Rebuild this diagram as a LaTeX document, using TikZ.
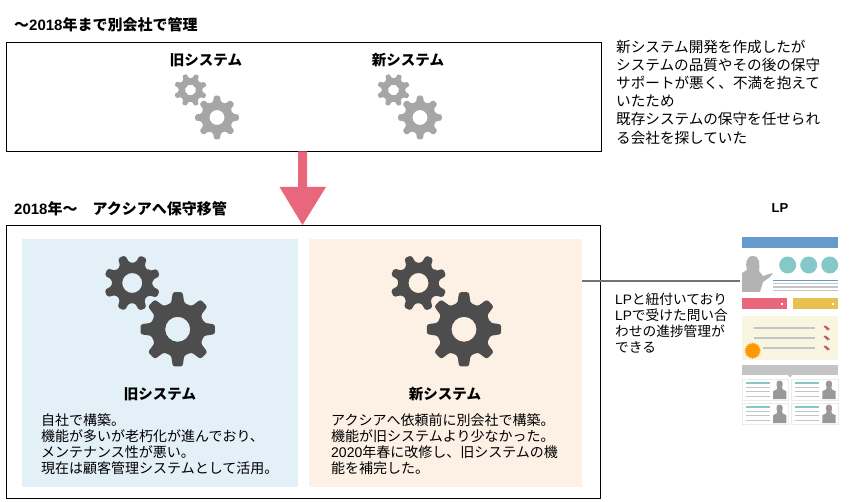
\documentclass[tikz,border=0pt]{standalone}
\usepackage{fontspec}
\setmainfont{Noto Sans CJK JP}
\newfontfamily\lat{Liberation Sans}
\usetikzlibrary{arrows.meta}
\definecolor{boxblue}{HTML}{E3F0F8}
\definecolor{boxorange}{HTML}{FDF1E6}
\definecolor{arrowred}{HTML}{E8677C}
\definecolor{geardark}{HTML}{4D4D4D}
\definecolor{gearlight}{HTML}{A6A6A6}
\definecolor{lpblue}{HTML}{6699CC}
\definecolor{lpteal}{HTML}{86C8C8}
\definecolor{lpgray}{HTML}{C4C4C4}
\definecolor{lpperson}{HTML}{B3B3B3}
\definecolor{lpdark}{HTML}{999999}
\definecolor{lpyellow}{HTML}{E8C050}
\definecolor{lppanel}{HTML}{F8F6E0}
\definecolor{lporange}{HTML}{FF9900}
\newcommand{\drawgear}[7]{% cx cy R root hole rot colour
  \fill[#7,even odd rule,rounded corners=0.06*#3 pt,shift={(#1,#2)},rotate=#6]
    (-14:#4)
    \foreach \a in {0,45,...,315}{
      -- ({\a-14}:#4) -- ({\a-7.5}:#3) -- ({\a+7.5}:#3) -- ({\a+14}:#4)
    } -- cycle
    [sharp corners] (0,0) circle[radius=#5];
}
\tikzset{
  frame/.style={draw=black,line width=0.8pt,fill=white},
  head/.style={anchor=west,font=\bfseries\fontsize{15}{17}\selectfont,inner sep=0pt},
  title/.style={anchor=center,font=\bfseries\fontsize{14.5}{16}\selectfont,inner sep=0pt},
  body/.style={anchor=north west,align=left,inner sep=0pt,font=\fontsize{14}{16.1}\selectfont},
  side/.style={anchor=north west,align=left,inner sep=0pt,font=\fontsize{14.6}{18.1}\selectfont},
  small/.style={anchor=north west,align=left,inner sep=0pt,font=\fontsize{13.7}{16}\selectfont},
  pics/lpcard/.style={code={
    \fill[white] (0,0) rectangle (46.4,21);
    \draw[black!8,line width=0.8pt] (0,0) rectangle (46.4,21);
    \draw[lpteal,line width=1.2pt] (3.7,3.7) -- (27.7,3.7);
    \foreach \d in {8,12.5,17} \draw[lpgray,line width=1.1pt] (3.7,\d) -- (27.7,\d);
    \fill[lpdark] (30.7,19.7) -- (30.7,12) -- (34.5,10) -- (35,8) .. controls (33.5,5) and (34,1.3) .. (37.3,1.3)
      .. controls (40.5,1.3) and (41,5) .. (39.8,8) -- (40.2,10) -- (44,12) -- (44,19.7) -- cycle;
  }}
}
\begin{document}
\begin{tikzpicture}[x=1pt,y=-1pt]
\useasboundingbox (0,0) rectangle (853,502);
\fill[white] (0,0) rectangle (853,502);

\node[head] (h1) at (14,25) {〜{\lat 2018}年まで別会社で管理};
\node[frame,minimum width=595pt,minimum height=109pt,anchor=north west,inner sep=0pt] (top) at (5.5,42.5) {};
\node[title] (told) at (206,60.5) {旧システム};
\node[title] (tnew) at (408,60.5) {新システム};
\drawgear{190.5}{90}{16.5}{12}{5.5}{22}{gearlight}
\drawgear{217}{117.5}{22}{16}{7.5}{0}{gearlight}
\drawgear{393.5}{90}{16.5}{12}{5.5}{22}{gearlight}
\drawgear{420}{117.5}{22}{16}{7.5}{0}{gearlight}
\node[side] (note1) at (616,40) {新システム開発を作成したが\\システムの品質やその後の保守\\サポートが悪く、不満を抱えて\\いたため\\既存システムの保守を任せられ\\る会社を探していた};

\node[head] (h2) at (14,209) {{\lat 2018}年〜　アクシアへ保守移管};
\node[frame,minimum width=594.5pt,minimum height=272.5pt,anchor=north west,inner sep=0pt] (bottom) at (5.5,225) {};
\node[fill=boxblue,minimum width=276pt,minimum height=248pt,anchor=north west,inner sep=0pt] (blue) at (22,239) {};
\node[fill=boxorange,minimum width=273pt,minimum height=248pt,anchor=north west,inner sep=0pt] (orange) at (309,239) {};

\fill[arrowred] (298,151.5) -- (307,151.5) -- (307,187) -- (326,187) -- (302.5,225) -- (279.5,187) -- (298,187) -- cycle;

\drawgear{132.2}{283}{28.5}{20.5}{10}{22}{geardark}
\drawgear{177.7}{329.3}{37.5}{27}{12.5}{0}{geardark}
\drawgear{418.5}{283}{28.5}{20.5}{10}{22}{geardark}
\drawgear{464}{329.3}{37.5}{27}{12.5}{0}{geardark}

\node[title] (bold) at (160,394) {旧システム};
\node[title] (bnew) at (445,394) {新システム};
\node[body] (t1) at (41,413) {自社で構築。\\機能が多いが老朽化が進んでおり、\\メンテナンス性が悪い。\\現在は顧客管理システムとして活用。};
\node[body] (t2) at (331,413) {アクシアへ依頼前に別会社で構築。\\機能が旧システムより少なかった。\\{\lat 2020}年春に改修し、旧システムの機\\能を補完した。};

\coordinate (linkstart) at (582,281);
\coordinate (linkend) at (740,281);
\draw[black!55,line width=1.6pt] (linkstart) -- (linkend);
\node[small] (note2) at (615,293) {{\lat LP}と紐付いており\\{\lat LP}で受けた問い合\\わせの進捗管理が\\できる};

\node[title,font=\bfseries\fontsize{13}{15}\selectfont\lat] (lp) at (780,208.5) {LP};
% LP thumbnail
\fill[lpblue] (742,237.3) rectangle (838,248.3);
\foreach \x in {787.7,808.7,829.7} \fill[lpteal] (\x,265) circle[radius=8.5];
\fill[lpperson] (742,292) -- (742,273) -- (747,270) .. controls (745,264) and (746,256) .. (753,256)
  .. controls (760,256) and (760,265) .. (759,271) -- (763,276) -- (769,274) -- (773,273) -- (770,277) -- (763,282) -- (760,292) -- cycle;
\draw[lpblue,line width=1.2pt] (773,280.3) -- (838,280.3);
\foreach \y in {283.7,287,290.7} \draw[lpgray,line width=1.2pt] (773,\y) -- (838,\y);
\fill[arrowred] (742,298.3) rectangle (787,309.3);
\fill[white] (781.3,303.3) rectangle (782.7,304.7);
\fill[lpyellow] (793,298.3) rectangle (838,309.3);
\fill[white] (832.3,303.3) rectangle (833.7,304.7);
\fill[lppanel] (742,316) rectangle (838,359.7);
\draw[lpgray,line width=1.8pt] (753.7,327.7) -- (815.3,327.7);
\draw[lpgray,line width=1.8pt] (753.7,337.7) -- (815.3,337.7);
\draw[lpgray,line width=1.8pt] (763,347.7) -- (815.3,347.7);
\foreach \y in {328,338,348}
  \draw[arrowred!85!black,line width=1.2pt] (824,{\y-2}) -- (827,{\y+1}) -- (826.5,{\y-1}) -- (829.5,{\y+1.5});
\fill[lporange,shift={(752.7,350.7)}] (0:8.4)
  \foreach \a in {0,18,...,342}{ -- (\a:8.4) -- ({\a+9}:6.6) } -- cycle;
\fill[lpgray] (742,364.7) rectangle (838,375);
\fill[lpgray] (787.5,375) -- (792.5,375) -- (790,377.5) -- cycle;
\pic at (742.3,379.3) {lpcard};
\pic at (791.6,379.3) {lpcard};
\pic at (742.3,403.3) {lpcard};
\pic at (791.6,403.3) {lpcard};
\end{tikzpicture}
\end{document}
